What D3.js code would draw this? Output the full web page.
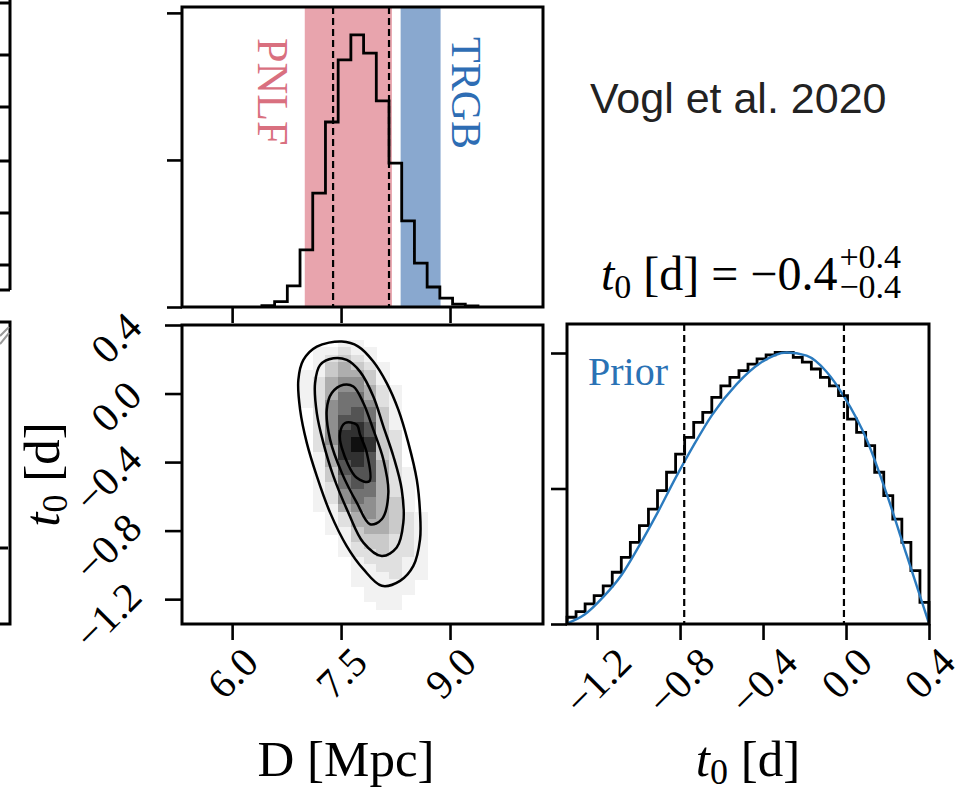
<!DOCTYPE html>
<html>
<head>
<meta charset="utf-8">
<script src="https://cdn.jsdelivr.net/npm/d3@7"></script>
<style>
  body { margin: 0; background: #fff; }
  svg { display: block; }
  text { font-family: "Liberation Serif", "Times New Roman", serif; }
</style>
</head>
<body>
<svg width="960" height="787"></svg>
<script>
// ---- D [Mpc] marginal (top panel) ----
var dEdges = [6.41, 6.585, 6.76, 6.935, 7.11, 7.285, 7.46, 7.635, 7.81, 7.985, 8.16, 8.335, 8.51, 8.685, 8.86, 9.035, 9.21, 9.385];
var dCounts = [10, 37, 143, 388, 775, 1258, 1680, 1850, 1727, 1401, 979, 585, 299, 136, 61, 20, 7];
var dTicks = [6.0, 7.5, 9.0];
var dQuantiles = [7.39, 8.16];
var pnlfRange = [7.0, 8.2];
var trgbRange = [8.32, 8.87];

// ---- t0 [d] marginal (right panel) ----
var t0Range = [-1.345, 0.4];
var t0Counts = [25, 46, 74, 105, 141, 191, 246, 301, 363, 424, 492, 560, 627, 689, 744, 781, 836, 879, 910, 935,
                959, 978, 993, 1002, 1002, 984, 966, 941, 910, 879, 843, 756, 707, 658, 560, 474, 387, 301, 197, 80];
var t0Ticks = [-1.2, -0.8, -0.4, 0.0, 0.4];
var t0Quantiles = [-0.78, -0.01];
var t0Median = -0.4, t0Plus = 0.4, t0Minus = 0.4;

// prior curve
var priorT0 = [-1.339, -1.26, -1.17, -1.083, -0.996, -0.909, -0.821, -0.734, -0.647, -0.527, -0.415, -0.286, -0.190, -0.093, -0.010, 0.100, 0.196, 0.292, 0.397];
var priorVal = [4, 35, 100, 180, 290, 410, 540, 660, 770, 885, 962, 1002, 990, 930, 840, 680, 480, 255, 9];

// ---- 2D density, rows from t0 = 0.4 downwards, columns along dEdges ----
var densityRows = [
  "0000000000000000",
  "0000000000000000",
  "0000001100000000",
  "0000112110000000",
  "0000123210000000",
  "0000134321000000",
  "0001134431000000",
  "0001245531000000",
  "0001245542100000",
  "0001246642100000",
  "0001256652100000",
  "0000256763100000",
  "0000257763100000",
  "0000257873100000",
  "0000258873200000",
  "0000258983200000",
  "0000248983200000",
  "0000148873200000",
  "0000147874200000",
  "0000137774210000",
  "0000136774210000",
  "0000126764210000",
  "0000125664210000",
  "0000125654310000",
  "0000114554310000",
  "0000012454321000",
  "0000012444321000",
  "0000011344321000",
  "0000001333221000",
  "0000001233221000",
  "0000001223221000",
  "0000000122211000",
  "0000000112211000",
  "0000000111211000",
  "0000000111110000",
  "0000000011110000",
  "0000000011100000",
  "0000000001100000",
  "0000000000000000",
  "0000000000000000"
];

// contour lines [D, t0]
var contourOuter = [[7.510, 0.303], [7.166, 0.274], [6.981, 0.196], [6.912, 0.080], [6.936, -0.094], [7.028, -0.288],
  [7.166, -0.482], [7.349, -0.695], [7.578, -0.890], [7.807, -1.025], [8.060, -1.122], [8.312, -1.093], [8.495, -1.006],
  [8.587, -0.851], [8.587, -0.695], [8.542, -0.502], [8.426, -0.288], [8.288, -0.094], [8.129, 0.061], [7.944, 0.187], [7.738, 0.274]];
var contourSecond = [[7.394, 0.206], [7.211, 0.167], [7.142, 0.061], [7.166, -0.114], [7.256, -0.288], [7.394, -0.482],
  [7.600, -0.695], [7.807, -0.870], [8.060, -0.948], [8.266, -0.899], [8.357, -0.754], [8.335, -0.560], [8.220, -0.366],
  [8.082, -0.192], [7.944, -0.017], [7.761, 0.128], [7.578, 0.196]];
var contourThird = [[7.532, 0.051], [7.372, 0.003], [7.303, -0.094], [7.349, -0.269], [7.510, -0.463], [7.716, -0.637],
  [7.899, -0.763], [8.060, -0.734], [8.151, -0.579], [8.082, -0.385], [7.944, -0.211], [7.807, -0.055], [7.669, 0.041]];
var contourInner = [[7.555, -0.172], [7.486, -0.230], [7.510, -0.317], [7.716, -0.492], [7.889, -0.512], [7.854, -0.346],
  [7.761, -0.240], [7.716, -0.182]];

var svg = d3.select("svg");

// panel boxes
var top_ = {l: 182, r: 543, t: 7, b: 307};
var mid = {l: 182, r: 543, t: 325, b: 624};
var rgt = {l: 567, r: 929, t: 324, b: 624};

var xD = d3.scaleLinear().domain([5.31, 10.28]).range([mid.l, mid.r]);
var yDcount = d3.scaleLinear().domain([0, 2040]).range([top_.b, top_.t]);
var xT = d3.scaleLinear().domain(t0Range).range([rgt.l, rgt.r]);
var yT = d3.scaleLinear().domain(t0Range).range([mid.b, mid.t]);
var yTcount = d3.scaleLinear().domain([0, 1107]).range([rgt.b, rgt.t]);

var fmt = d3.format(".1f");
var tickFont = 41;
var labelFont = 51;

function stepPoints(edges, counts) {
  var pts = [[edges[0], 0]];
  counts.forEach(function(c, i) {
    pts.push([edges[i], c]);
    pts.push([edges[i + 1], c]);
  });
  pts.push([edges[edges.length - 1], 0]);
  return pts;
}

function styleAxis(g) {
  g.select(".domain").remove();
  g.selectAll(".tick line").attr("stroke", "#000").attr("stroke-width", 2.6);
}

function rotateLabels(g, kind) {
  g.selectAll(".tick text").each(function() {
    var t = d3.select(this)
      .attr("x", 0).attr("y", 0).attr("dy", "0.34em")
      .attr("text-anchor", "middle")
      .attr("font-size", tickFont)
      .attr("fill", "#000");
    var len = this.getComputedTextLength();
    var W = (len + 0.68 * tickFont) * Math.SQRT1_2;
    if (kind === "x") t.attr("transform", "translate(0," + (21 + W / 2) + ") rotate(-45)");
    else t.attr("transform", "translate(" + (-38 - W / 2) + "," + (0.22 * W) + ") rotate(-45)");
  });
}

// ---------- top panel: D marginal ----------
svg.append("rect")
  .attr("x", xD(pnlfRange[0])).attr("y", top_.t)
  .attr("width", xD(pnlfRange[1]) - xD(pnlfRange[0])).attr("height", top_.b - top_.t)
  .attr("fill", "#e8a4ad");
svg.append("rect")
  .attr("x", xD(trgbRange[0])).attr("y", top_.t)
  .attr("width", xD(trgbRange[1]) - xD(trgbRange[0])).attr("height", top_.b - top_.t)
  .attr("fill", "#89a8cf");

var dLine = d3.line().x(d => xD(d[0])).y(d => yDcount(d[1]));
svg.append("path")
  .attr("d", dLine(stepPoints(dEdges, dCounts)))
  .attr("fill", "none").attr("stroke", "#000").attr("stroke-width", 2.8);

svg.selectAll(".dq").data(dQuantiles).enter().append("line")
  .attr("x1", d => xD(d)).attr("x2", d => xD(d))
  .attr("y1", top_.t).attr("y2", top_.b)
  .attr("stroke", "#000").attr("stroke-width", 2.2).attr("stroke-dasharray", "7,4");

svg.append("text")
  .attr("transform", "translate(258,38) rotate(90)")
  .attr("font-size", 44).attr("fill", "#d9707f")
  .text("PNLF");
svg.append("text")
  .attr("transform", "translate(452,37) rotate(90)")
  .attr("font-size", 42).attr("fill", "#2e6db4")
  .text("TRGB");

var gTopY = svg.append("g").attr("transform", "translate(" + top_.l + ",0)")
  .call(d3.axisLeft(yDcount).tickValues([0, 1000, 2000]).tickSize(15).tickFormat(""));
styleAxis(gTopY);
var gTopX = svg.append("g").attr("transform", "translate(0," + top_.b + ")")
  .call(d3.axisBottom(xD).tickValues(dTicks).tickSize(16).tickFormat(""));
styleAxis(gTopX);

svg.append("rect")
  .attr("x", top_.l).attr("y", top_.t).attr("width", top_.r - top_.l).attr("height", top_.b - top_.t)
  .attr("fill", "none").attr("stroke", "#000").attr("stroke-width", 3);

// ---------- middle panel: 2D density ----------
var nRows = densityRows.length;
var tStep = (t0Range[1] - t0Range[0]) / nRows;
var cells = [];
densityRows.forEach(function(row, r) {
  row.split("").forEach(function(ch, c) {
    var v = +ch;
    if (v > 0) cells.push({c: c, t1: t0Range[1] - r * tStep, t0: t0Range[1] - (r + 1) * tStep, v: v});
  });
});
svg.append("g").attr("shape-rendering", "crispEdges")
  .selectAll("rect").data(cells).enter().append("rect")
  .attr("x", d => xD(dEdges[d.c]))
  .attr("width", d => xD(dEdges[d.c + 1]) - xD(dEdges[d.c]) + 0.5)
  .attr("y", d => yT(d.t1))
  .attr("height", d => yT(d.t0) - yT(d.t1) + 0.5)
  .attr("fill", d => d3.interpolateGreys(d.v / 9.5));

var cLine = d3.line().x(d => xD(d[0])).y(d => yT(d[1])).curve(d3.curveCatmullRomClosed.alpha(0.5));
svg.selectAll(".contour").data([contourOuter, contourSecond, contourThird, contourInner]).enter()
  .append("path")
  .attr("d", cLine)
  .attr("fill", "none").attr("stroke", "#000").attr("stroke-width", 2.5);

var gMidY = svg.append("g").attr("transform", "translate(" + mid.l + ",0)")
  .call(d3.axisLeft(yT).tickValues(t0Ticks).tickSize(17).tickFormat(fmt));
styleAxis(gMidY);
rotateLabels(gMidY, "y");
var gMidX = svg.append("g").attr("transform", "translate(0," + mid.b + ")")
  .call(d3.axisBottom(xD).tickValues(dTicks).tickSize(16).tickFormat(fmt));
styleAxis(gMidX);
rotateLabels(gMidX, "x");

svg.append("rect")
  .attr("x", mid.l).attr("y", mid.t).attr("width", mid.r - mid.l).attr("height", mid.b - mid.t)
  .attr("fill", "none").attr("stroke", "#000").attr("stroke-width", 3);

// ---------- right panel: t0 marginal ----------
var t0Edges = d3.range(t0Counts.length + 1).map(i => t0Range[0] + i * (t0Range[1] - t0Range[0]) / t0Counts.length);
var tLine = d3.line().x(d => xT(d[0])).y(d => yTcount(d[1]));
svg.append("path")
  .attr("d", tLine(stepPoints(t0Edges, t0Counts)))
  .attr("fill", "none").attr("stroke", "#000").attr("stroke-width", 2.8);

var priorLine = d3.line().x(d => xT(d[0])).y(d => yTcount(d[1])).curve(d3.curveMonotoneX);
svg.append("path")
  .attr("d", priorLine(priorT0.map((t, i) => [t, priorVal[i]])))
  .attr("fill", "none").attr("stroke", "#2b7bbf").attr("stroke-width", 2.4);

svg.selectAll(".tq").data(t0Quantiles).enter().append("line")
  .attr("x1", d => xT(d)).attr("x2", d => xT(d))
  .attr("y1", rgt.t).attr("y2", rgt.b)
  .attr("stroke", "#000").attr("stroke-width", 2.2).attr("stroke-dasharray", "7,4");

svg.append("text").attr("x", 588).attr("y", 385)
  .attr("font-size", 40).attr("fill", "#2a72b5").text("Prior");

var gRY = svg.append("g").attr("transform", "translate(" + rgt.l + ",0)")
  .call(d3.axisLeft(yTcount).tickValues([0, 500, 1000]).tickSize(16).tickFormat(""));
styleAxis(gRY);
var gRX = svg.append("g").attr("transform", "translate(0," + rgt.b + ")")
  .call(d3.axisBottom(xT).tickValues(t0Ticks).tickSize(16).tickFormat(fmt));
styleAxis(gRX);
rotateLabels(gRX, "x");

svg.append("rect")
  .attr("x", rgt.l).attr("y", rgt.t).attr("width", rgt.r - rgt.l).attr("height", rgt.b - rgt.t)
  .attr("fill", "none").attr("stroke", "#000").attr("stroke-width", 3);

// ---------- title over the t0 marginal ----------
var title = svg.append("text").attr("y", 290).attr("font-size", 48).attr("fill", "#000");
title.append("tspan").attr("font-style", "italic").text("t");
title.append("tspan").attr("font-size", 34).attr("dy", 8).text("0");
title.append("tspan").attr("dy", -8).text(" [d] = " + fmt(t0Median));
var mainW = title.node().getComputedTextLength();
var sup = svg.append("text").attr("y", 268).attr("font-size", 34).text("+" + fmt(t0Plus));
var sub = svg.append("text").attr("y", 298).attr("font-size", 34).text("\u2212" + fmt(t0Minus));
var scriptW = Math.max(sup.node().getComputedTextLength(), sub.node().getComputedTextLength());
var titleX = 751 - (mainW + scriptW + 2) / 2;
title.attr("x", titleX);
sup.attr("x", titleX + mainW + 2);
sub.attr("x", titleX + mainW + 2);

// ---------- axis labels ----------
svg.append("text").attr("x", 346).attr("y", 776)
  .attr("text-anchor", "middle").attr("font-size", labelFont).text("D [Mpc]");

function t0Label(sel) {
  sel.append("tspan").attr("font-style", "italic").text("t");
  sel.append("tspan").attr("font-size", 36).attr("dy", 8).text("0");
  sel.append("tspan").attr("dy", -8).text(" [d]");
}
svg.append("text").attr("x", (rgt.l + rgt.r) / 2).attr("y", 776)
  .attr("text-anchor", "middle").attr("font-size", labelFont).call(t0Label);
svg.append("text").attr("transform", "translate(59," + (mid.t + mid.b) / 2 + ") rotate(-90)")
  .attr("text-anchor", "middle").attr("font-size", labelFont).call(t0Label);

// ---------- annotation ----------
svg.append("text").attr("x", 590).attr("y", 113)
  .attr("font-size", 43).style("font-family", "'Liberation Sans', Arial, sans-serif")
  .attr("fill", "#222").text("Vogl et al. 2020");

// ---------- neighbouring panels cut off at the left edge ----------
svg.append("path")
  .attr("d", "M0,3H10M0,55H10M0,107H10M0,161H10M0,213H10M0,265H10M10,0V290M0,290H10")
  .attr("fill", "none").attr("stroke", "#000").attr("stroke-width", 3);
svg.append("path")
  .attr("d", "M0,322H10V624H0M0,548H8")
  .attr("fill", "none").attr("stroke", "#000").attr("stroke-width", 3);
svg.append("path")
  .attr("d", "M0,336L9,327M0,344L9,333")
  .attr("fill", "none").attr("stroke", "#999").attr("stroke-width", 2);
</script>
</body>
</html>
